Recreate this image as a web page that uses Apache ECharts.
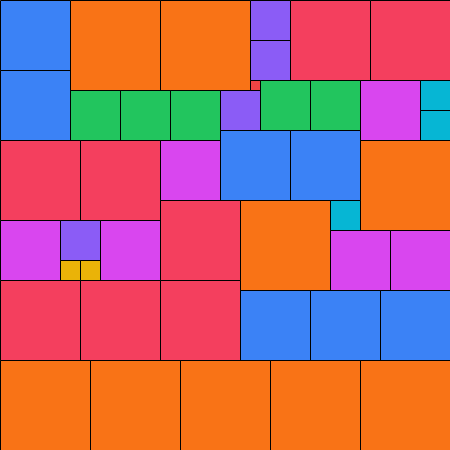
<!DOCTYPE html>
<html>
<head>
<meta charset="utf-8">
<script src="https://cdn.jsdelivr.net/npm/echarts@6/dist/echarts.min.js"></script>
<style>html,body{margin:0;padding:0;background:#fff}#c{width:450px;height:450px}</style>
</head>
<body>
<div id="c"></div>
<script>
// Square packing: square side, left (x) and top (y) in grid units (45 x 45)
const sides = [7,7,9,9,4,4,8,8,
  5,5,5,4,1,5,5,6,3,3,
  8,8,6,7,7,9,
  6,4,2,2,6,8,9,3,6,6,
  8,8,8,7,7,7,
  9,9,9,9,9];
const xs = [0,0,7,16,25,25,29,37,
  7,12,17,22,25,26,31,36,42,42,
  0,8,16,22,29,36,
  0,6,6,8,10,16,24,33,33,39,
  0,8,16,24,31,38,
  0,9,18,27,36];
const ys = [0,7,0,0,0,4,0,0,
  9,9,9,9,8,8,8,8,8,11,
  14,14,14,13,13,14,
  22,22,26,26,22,20,20,20,23,23,
  28,28,28,29,29,29,
  36,36,36,36,36];
const sizeColors = {1:'#ef4444',2:'#eab308',3:'#06b6d4',4:'#8b5cf6',5:'#22c55e',6:'#d946ef',7:'#3b82f6',8:'#f43f5e',9:'#f97316'};
const data = sides.map((s,i)=>[xs[i], ys[i], s]);

const chart = echarts.init(document.getElementById('c'), null, {renderer:'canvas'});
chart.setOption({
  animation:false,
  grid:{left:0,top:0,right:0,bottom:0},
  xAxis:{type:'value',min:0,max:45,show:false},
  yAxis:{type:'value',min:0,max:45,inverse:true,show:false},
  series:[{
    type:'custom',
    data:data,
    renderItem:function(params, api){
      const x = api.value(0), y = api.value(1), s = api.value(2);
      const p0 = api.coord([x, y]);
      const p1 = api.coord([x + s, y + s]);
      return {
        type:'rect',
        shape:{x:Math.round(p0[0])+0.5, y:Math.round(p0[1])+0.5, width:Math.round(p1[0]-p0[0]), height:Math.round(p1[1]-p0[1])},
        style:{fill:sizeColors[s], stroke:'#000', lineWidth:1}
      };
    }
  }]
});
</script>
</body>
</html>
